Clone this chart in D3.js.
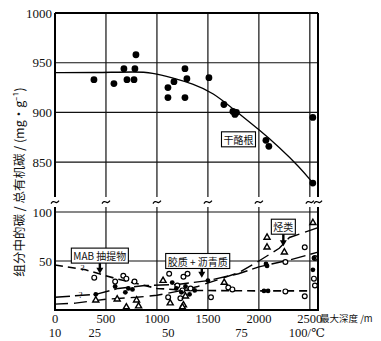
<!DOCTYPE html>
<html>
<head>
<meta charset="utf-8">
<script src="https://cdn.jsdelivr.net/npm/d3@7"></script>
<style>
  html, body { margin: 0; padding: 0; background: #fff; }
  svg { display: block; }
  text { fill: #111; }
</style>
</head>
<body>
<svg id="chart" width="381" height="341"></svg>
<script>
// Depth grid and tick labels
const depthTicks = [0, 500, 1000, 1500, 2000, 2500];
const tempLabels = ["10", "25", "50", "75", "100/℃"];
const tempDepths = [0, 390, 1110, 1830, 2500];
const topTicks = [850, 900, 950, 1000];
const lowTicks = [50, 100];

// Kerogen carbon (mg/g TOC) vs maximum depth (m)
const kerogenPts = [
  [382, 933], [578, 929], [676, 944], [706, 933], [775, 933], [784, 944], [794, 958],
  [1108, 925], [1108, 915], [1167, 931], [1275, 944], [1294, 934], [1275, 915],
  [1510, 935], [1657, 908], [1745, 901], [1765, 898], [1780, 900],
  [2069, 872], [2098, 866], [2529, 895], [2529, 829]
];
const kerogenCurve = [
  [0, 940], [400, 940], [800, 941], [950, 940], [1150, 935], [1350, 929],
  [1550, 920], [1765, 902], [2010, 882], [2200, 865], [2400, 845], [2530, 829]
];

// Lower panel: carbon in fractions (mg/g TOC)
const mabLine = [[0, 46], [300, 41], [600, 32], [1000, 22], [1300, 20], [2000, 19.5], [2500, 19.5]];
const resinLine = [[0, 13], [400, 16], [620, 22], [880, 25], [1200, 26], [1500, 30], [1800, 37], [2000, 44], [2300, 51], [2580, 59]];
const hcLine = [[0, 6], [200, 7], [500, 11], [800, 13], [1000, 15], [1200, 19], [1400, 24], [1600, 31], [1800, 38], [2000, 50], [2200, 63], [2300, 74], [2580, 84]];

const mabPts = [
  [385, 33], [590, 29], [670, 35], [700, 32], [780, 29], [1110, 13], [1120, 37],
  [1230, 12], [1260, 34], [1300, 37], [1200, 25], [1250, 20], [1330, 22], [1530, 13],
  [1700, 23], [1740, 21], [2260, 19], [2450, 14], [2260, 49], [2450, 64], [2540, 32], [2550, 25], [2550, 53]
];
const resinPts = [
  [400, 16], [590, 24], [690, 18], [720, 22], [760, 21], [1150, 28], [1190, 22],
  [1240, 18], [1280, 24], [1320, 16], [1370, 20], [1500, 30], [2070, 47], [2080, 45],
  [2050, 19.5], [2090, 19.5], [2530, 41], [2540, 53]
];
const hcPts = [
  [400, 10], [610, 11], [700, 3], [820, 4], [800, 10], [1060, 30], [1130, 7],
  [1260, 5], [1280, 14], [1660, 28], [1250, 3], [2080, 74], [2080, 64], [2250, 59], [2530, 89]
];

const svg = d3.select("#chart");
const x = d3.scaleLinear().domain([0, 2580]).range([55, 318]);
const yTop = d3.scaleLinear().domain([815, 1000]).range([197, 13]);
const yLow = d3.scaleLinear().domain([0, 100]).range([310, 212]);
const serif = "'Liberation Serif', 'DejaVu Serif', serif";
const cjk = "'Noto Sans CJK SC', sans-serif";

// ---- grid lines ----
const grid = svg.append("g").attr("stroke", "#111").attr("stroke-width", 1.2);
depthTicks.slice(1).forEach(d => {
  grid.append("line").attr("x1", x(d)).attr("x2", x(d)).attr("y1", yTop(1000)).attr("y2", yTop(815));
  grid.append("line").attr("x1", x(d)).attr("x2", x(d)).attr("y1", yLow(105)).attr("y2", yLow(0));
});
topTicks.slice(0, 3).forEach(v => {
  grid.append("line").attr("x1", x(0)).attr("x2", x(2580)).attr("y1", yTop(v)).attr("y2", yTop(v));
});
lowTicks.forEach(v => {
  grid.append("line").attr("x1", x(0)).attr("x2", x(2580)).attr("y1", yLow(v)).attr("y2", yLow(v));
});

// ---- frame ----
const frame = svg.append("g").attr("stroke", "#000").attr("fill", "none");
frame.append("line").attr("x1", x(0)).attr("x2", x(2580)).attr("y1", yTop(1000)).attr("y2", yTop(1000)).attr("stroke-width", 2);
frame.append("line").attr("x1", x(0)).attr("x2", x(0)).attr("y1", yTop(1000)).attr("y2", yTop(815)).attr("stroke-width", 2);
frame.append("line").attr("x1", x(0)).attr("x2", x(0)).attr("y1", yLow(105)).attr("y2", yLow(0)).attr("stroke-width", 2);
frame.append("line").attr("x1", x(2580)).attr("x2", x(2580)).attr("y1", yTop(1000)).attr("y2", yTop(815)).attr("stroke-width", 2);
frame.append("line").attr("x1", x(2580)).attr("x2", x(2580)).attr("y1", yLow(105)).attr("y2", yLow(0)).attr("stroke-width", 2);
frame.append("line").attr("x1", x(0) - 1).attr("x2", x(2580) + 1).attr("y1", yLow(0)).attr("y2", yLow(0)).attr("stroke-width", 2.2);

// ---- axis break marks ----
const breakY = (yTop(815) + yLow(105)) / 2;
const breaks = depthTicks.map(d => x(d)).concat([x(2580)]);
svg.append("g").selectAll("path").data(breaks).join("path")
  .attr("d", px => `M${px - 4},${breakY + 1.5} q2,-3 4,-1.5 t4,-1.5`)
  .attr("fill", "none").attr("stroke", "#000").attr("stroke-width", 1.2);

// ---- axes labels ----
const fmt = d3.format("d");
const axTop = d3.axisLeft(yTop).tickValues(topTicks).tickSize(0).tickPadding(3).tickFormat(fmt);
svg.append("g").attr("transform", `translate(${x(0)},0)`).call(axTop)
  .call(g => g.select(".domain").remove())
  .selectAll("text").attr("font-family", serif).attr("font-size", 13).attr("fill", "#111");
const axLow = d3.axisLeft(yLow).tickValues(lowTicks).tickSize(0).tickPadding(3).tickFormat(fmt);
svg.append("g").attr("transform", `translate(${x(0)},0)`).call(axLow)
  .call(g => g.select(".domain").remove())
  .selectAll("text").attr("font-family", serif).attr("font-size", 13).attr("fill", "#111");

// depth labels (first row) and temperature labels (second row)
svg.append("g").selectAll("text").data(depthTicks).join("text")
  .attr("x", d => x(d)).attr("y", 322.5).attr("text-anchor", "middle")
  .attr("font-family", serif).attr("font-size", 12.5).text(fmt);
svg.append("g").selectAll("text").data(tempLabels).join("text")
  .attr("x", (d, i) => x(tempDepths[i]) + (i === 4 ? -21 : 0))
  .attr("y", 337)
  .attr("text-anchor", (d, i) => i === 4 ? "start" : "middle")
  .attr("font-family", serif).attr("font-size", 12.5)
  .text(d => d);

svg.append("text").attr("x", 320).attr("y", 322)
  .attr("font-family", cjk).attr("font-size", 9.5).text("最大深度 /m");

svg.append("text")
  .attr("transform", "translate(24,182) rotate(-90)")
  .attr("text-anchor", "middle")
  .attr("font-family", cjk).attr("font-size", 12.5)
  .text("组分中的碳 / 总有机碳 / (mg·g⁻¹)");

// ---- top panel: kerogen ----
svg.append("path").datum(kerogenCurve)
  .attr("d", d3.line().x(d => x(d[0])).y(d => yTop(d[1])).curve(d3.curveBasis))
  .attr("fill", "none").attr("stroke", "#000").attr("stroke-width", 1.3);
svg.append("g").selectAll("circle").data(kerogenPts).join("circle")
  .attr("cx", d => x(d[0])).attr("cy", d => yTop(d[1])).attr("r", 3.4).attr("fill", "#000");

function boxLabel(cx, cy, txt, size) {
  const g = svg.append("g");
  const t = g.append("text").attr("x", cx).attr("y", cy).attr("text-anchor", "middle")
    .attr("dominant-baseline", "central").attr("font-family", cjk).attr("font-size", size).text(txt);
  const bb = t.node().getBBox();
  g.insert("rect", "text").attr("x", bb.x - 2).attr("y", bb.y).attr("width", bb.width + 4).attr("height", bb.height)
    .attr("fill", "#fff").attr("stroke", "#000").attr("stroke-width", 1.1);
  return bb;
}
boxLabel(x(1800), yTop(873), "干酪根", 10);

// ---- lower panel ----
const lineLow = d3.line().x(d => x(d[0])).y(d => yLow(d[1]));
svg.append("path").datum(mabLine).attr("d", lineLow)
  .attr("fill", "none").attr("stroke", "#000").attr("stroke-width", 1.6).attr("stroke-dasharray", "8,5");
svg.append("path").datum(resinLine).attr("d", lineLow)
  .attr("fill", "none").attr("stroke", "#000").attr("stroke-width", 1.4).attr("stroke-dasharray", "15,5");
svg.append("path").datum(hcLine).attr("d", lineLow)
  .attr("fill", "none").attr("stroke", "#000").attr("stroke-width", 1.4).attr("stroke-dasharray", "13,6");

svg.append("g").selectAll("circle").data(mabPts).join("circle")
  .attr("cx", d => x(d[0])).attr("cy", d => yLow(d[1])).attr("r", 2.4)
  .attr("fill", "#fff").attr("stroke", "#000").attr("stroke-width", 1.2);
svg.append("g").selectAll("circle").data(resinPts).join("circle")
  .attr("cx", d => x(d[0])).attr("cy", d => yLow(d[1])).attr("r", 2.4).attr("fill", "#000");
svg.append("g").selectAll("path").data(hcPts).join("path")
  .attr("d", d3.symbol().type(d3.symbolTriangle).size(16))
  .attr("transform", d => `translate(${x(d[0])},${yLow(d[1])})`)
  .attr("fill", "#fff").attr("stroke", "#000").attr("stroke-width", 1.4);

// question marks on the extrapolated parts
[[270, 42.5], [250, 15.5]].forEach(p => {
  svg.append("text").attr("x", x(p[0])).attr("y", yLow(p[1]) + 3).attr("text-anchor", "middle")
    .attr("font-family", serif).attr("font-size", 9).text("?");
});

// labelled arrows
function arrow(px, y0, y1) {
  svg.append("line").attr("x1", px).attr("x2", px).attr("y1", y0).attr("y2", y1 - 5)
    .attr("stroke", "#000").attr("stroke-width", 2.4);
  svg.append("path").attr("d", `M${px - 3.5},${y1 - 6} L${px + 3.5},${y1 - 6} L${px},${y1} Z`).attr("fill", "#000");
}
const b1 = boxLabel(x(440), yLow(55.5), "MAB 抽提物", 10);
arrow(x(440), b1.y + b1.height, yLow(37));
const b2 = boxLabel(x(1400), yLow(50), "胶质 + 沥青质", 10);
arrow(x(1440), b2.y + b2.height, yLow(33));
const b3 = boxLabel(x(2240), yLow(85), "烃类", 10);
arrow(x(2240), b3.y + b3.height, yLow(65));
</script>
</body>
</html>
